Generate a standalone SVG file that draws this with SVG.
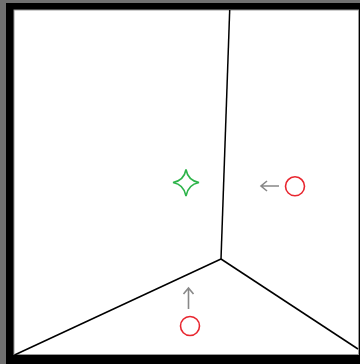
<svg xmlns="http://www.w3.org/2000/svg" width="360" height="364" viewBox="0 0 360 364">
<style>
.edge{stroke:#000;stroke-width:1.5;fill:none}
.ring{fill:none;stroke:#e8262f;stroke-width:1.6}
.arr{stroke:#888;stroke-width:1.6;fill:none}
</style>
<rect x="0" y="0" width="360" height="364" fill="#707070"/>
<rect x="6" y="3" width="354" height="361" fill="#000"/>
<rect x="14" y="10" width="344.5" height="344.5" fill="#fff" stroke="#9a9a9a" stroke-width="1"/>
<g id="connectors">
<line class="edge" x1="229.7" y1="10" x2="221" y2="259"/>
<line class="edge" x1="221" y1="259" x2="14.5" y2="355"/>
<line class="edge" x1="221" y1="259" x2="358" y2="349"/>
<path class="arr" d="M279 186 H261 M267 181 L261 186 L267 191"/>
<path class="arr" d="M188.5 309 V288 M183.5 294 L188.5 288 L193.5 294"/>
</g>
<g id="star">
<path d="M186 169.5 Q188 180.5 199 182.5 Q188 184.5 186 196 Q184 184.5 173 182.5 Q184 180.5 186 169.5 Z" fill="#fff" stroke="#2db44a" stroke-width="1.6"/>
</g>
<g id="circle-right"><circle class="ring" cx="295" cy="186.3" r="9.5"/></g>
<g id="circle-bottom"><circle class="ring" cx="190" cy="326" r="9.5"/></g>
</svg>
